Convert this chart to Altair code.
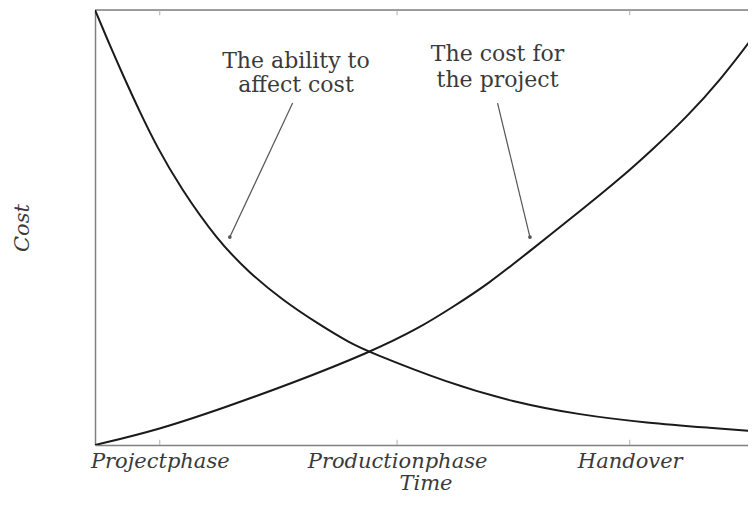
import altair as alt
import pandas as pd

# ---- data (x = time 0..1, y = cost 0..1) ----
t_rise = [0, 0.094, 0.194, 0.295, 0.416, 0.492, 0.542, 0.593, 0.658, 0.744,
          0.794, 0.844, 0.896, 0.946, 0.995, 1.02]
v_rise = [0, 0.034, 0.085, 0.140, 0.213, 0.270, 0.318, 0.368, 0.446, 0.550,
          0.612, 0.680, 0.755, 0.839, 0.936, 0.99]
t_fall = [0, 0.0227, 0.0424, 0.068, 0.0938, 0.1286, 0.185, 0.234, 0.284, 0.336,
          0.386, 0.416, 0.533, 0.632, 0.734, 0.835, 0.935, 1.0, 1.03]
v_fall = [1.0, 0.918, 0.850, 0.765, 0.685, 0.593, 0.471, 0.395, 0.333, 0.280,
          0.234, 0.213, 0.143, 0.099, 0.069, 0.051, 0.039, 0.031, 0.028]

tick_pos = [0.098, 0.457, 0.809]
tick_lab = ["Projectphase", "Productionphase", "Handover"]

ann_lines = ["The ability to", "affect cost", "The cost for", "the project"]
ann_x = [0.304, 0.304, 0.609, 0.609]
ann_y = [0.883, 0.828, 0.899, 0.839]

arrow_x = [0.299, 0.609]
arrow_y = [0.786, 0.786]
arrow_x2 = [0.204, 0.658]
arrow_y2 = [0.478, 0.478]

# ---- tables ----
curves = pd.DataFrame(
    {"t": t_rise + t_fall,
     "v": v_rise + v_fall,
     "s": ["cost"] * len(t_rise) + ["ability"] * len(t_fall)}
)
ticks = pd.DataFrame({"t": tick_pos})
anns = pd.DataFrame({"x": ann_x, "y": ann_y, "txt": ann_lines})
arrows = pd.DataFrame({"x": arrow_x, "y": arrow_y, "x2": arrow_x2, "y2": arrow_y2})

label_expr = " : ".join(
    f"abs(datum.value - {p}) < 0.001 ? '{l}'" for p, l in zip(tick_pos, tick_lab)
) + " : ''"

FONT = "DejaVu Serif"
GREY = "#808080"
TXT = "#3a3a3a"

xscale = alt.Scale(domain=[0, 1], nice=False, zero=False)
yscale = alt.Scale(domain=[0, 1], nice=False, zero=False)

lines = alt.Chart(curves).mark_line(
    color="#1a1a1a", strokeWidth=2, interpolate="basis", clip=True
).encode(
    x=alt.X("t:Q", scale=xscale,
            axis=alt.Axis(values=tick_pos, labelExpr=label_expr, ticks=False,
                          grid=False, domainColor=GREY, domainWidth=1.5,
                          labelFont=FONT, labelFontStyle="italic", labelFontSize=21,
                          labelColor=TXT, labelPadding=5,
                          title="Time", titleFont=FONT, titleFontStyle="italic",
                          titleFontWeight="normal", titleFontSize=21, titleColor=TXT,
                          titlePadding=1)),
    y=alt.Y("v:Q", scale=yscale,
            axis=alt.Axis(labels=False, ticks=False, grid=False,
                          domainColor=GREY, domainWidth=1.5,
                          title="Cost", titleFont=FONT, titleFontStyle="italic",
                          titleFontWeight="normal", titleFontSize=21, titleColor=TXT,
                          titlePadding=63)),
    detail="s:N",
)

top_border = alt.Chart(pd.DataFrame({"a": [0]})).mark_rule(
    color=GREY, strokeWidth=1.5
).encode(x=alt.datum(0), x2=alt.datum(1.05), y=alt.datum(1))

tick_bottom = alt.Chart(ticks).mark_rule(color="#b0b0b0", strokeWidth=1).encode(
    x="t:Q", y=alt.datum(0), y2=alt.datum(0.012)
)
tick_top = alt.Chart(ticks).mark_rule(color="#b0b0b0", strokeWidth=1).encode(
    x="t:Q", y=alt.datum(1), y2=alt.datum(0.988)
)

arrow_lines = alt.Chart(arrows).mark_rule(color="#555555", strokeWidth=1.2).encode(
    x="x:Q", y="y:Q", x2="x2:Q", y2="y2:Q"
)
arrow_heads = alt.Chart(arrows).mark_point(
    filled=True, shape="circle", size=14, color="#555555", opacity=1
).encode(x="x2:Q", y="y2:Q")

texts = alt.Chart(anns).mark_text(
    font=FONT, fontSize=22, color=TXT, align="center", baseline="middle"
).encode(x="x:Q", y="y:Q", text="txt:N")

chart = alt.layer(
    top_border, tick_bottom, tick_top, lines, arrow_lines, arrow_heads, texts
).properties(
    width=661, height=435,
    autosize=alt.AutoSizeParams(type="none"),
    padding={"left": 87, "top": 2, "right": -8, "bottom": 52},
).configure_view(stroke=None).configure(background="white")

chart.save("out.html", embed_options={"renderer": "svg", "actions": False})
